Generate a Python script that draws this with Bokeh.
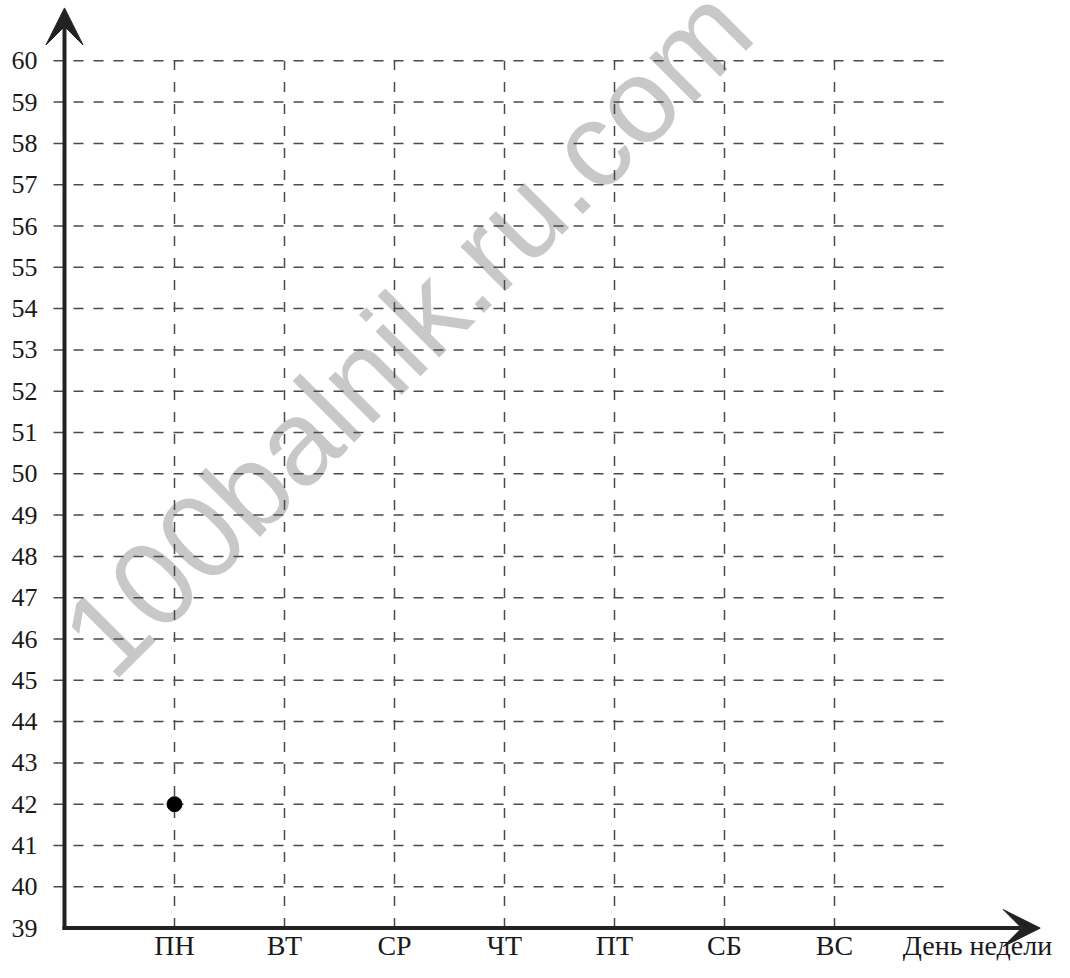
from bokeh.plotting import figure
from bokeh.models import Range1d, Arrow, VeeHead
from bokeh.core.properties import value
from bokeh.embed import file_html
from bokeh.resources import INLINE

# ---- data ----
days = ["ПН", "ВТ", "СР", "ЧТ", "ПТ", "СБ", "ВС"]
x_title = "День недели"
y_ticks = list(range(39, 61))
y_grid = list(range(40, 61))
point_days = ["ПН"]
point_values = [42]
watermark = "100balnik.ru.com"

# ---- geometry (pixels) ----
W, H = 1054, 962
PX_X = 110.0      # pixels per day
PX_Y = 41.3       # pixels per unit
X0_PX = 64.0      # canvas x of the vertical axis
Y0_PX = 927.6     # canvas y of the value 39
Y_MIN = y_ticks[0]

x_start = -X0_PX / PX_X
x_end = (W - X0_PX) / PX_X
y_start = Y_MIN - (H - Y0_PX) / PX_Y
y_end = Y_MIN + Y0_PX / PX_Y

p = figure(width=W, height=H,
           x_range=Range1d(x_start, x_end), y_range=Range1d(y_start, y_end),
           output_backend="svg", toolbar_location=None,
           x_axis_location=None, y_axis_location=None, min_border=0)
p.grid.visible = False
p.outline_line_color = None
p.background_fill_color = "white"
p.border_fill_color = "white"

xs = [i + 1 for i in range(len(days))]
n_days = len(days)

# watermark
p.text(x=[3.105], y=[53.45], text=[watermark], angle=45, angle_units="deg",
       text_font=value("Liberation Sans"), text_font_size="120px",
       text_color="#c8c8c8", text_align="center", text_baseline="alphabetic")

# dashed grid
grid_color = "#4a4a4a"
p.segment(x0=[-0.1] * len(y_grid), y0=y_grid, x1=[n_days + 1.0] * len(y_grid), y1=y_grid,
          line_color=grid_color, line_width=1.5, line_dash="10 10")
p.segment(x0=xs, y0=[Y_MIN] * n_days, x1=xs, y1=[y_grid[-1]] * n_days,
          line_color=grid_color, line_width=1.5, line_dash="10 12")

# axes with arrows
axis_color = "#222222"
p.add_layout(Arrow(x_start=0, y_start=Y_MIN - 2.0 / PX_Y, x_end=0, y_end=61.28,
                   line_color=axis_color, line_width=4,
                   end=VeeHead(size=37, fill_color=axis_color, line_color=axis_color)))
p.add_layout(Arrow(x_start=-2.0 / PX_X, y_start=Y_MIN, x_end=8.87, y_end=Y_MIN,
                   line_color=axis_color, line_width=4,
                   end=VeeHead(size=37, fill_color=axis_color, line_color=axis_color)))

# tick labels
p.text(x=[-0.245] * len(y_ticks), y=y_ticks, text=[str(v) for v in y_ticks],
       text_font=value("Liberation Serif"), text_font_size="26px", text_color="#1a1a1a",
       text_align="right", text_baseline="middle")
label_y = Y_MIN - (960 - Y0_PX) / PX_Y
p.text(x=xs, y=[label_y] * n_days, text=days,
       text_font=value("Liberation Serif"), text_font_size="28px", text_color="#1a1a1a",
       text_align="center", text_baseline="bottom")
p.text(x=[8.30], y=[label_y], text=[x_title],
       text_font=value("Liberation Serif"), text_font_size="28px", text_color="#1a1a1a",
       text_align="center", text_baseline="bottom")

# data point
p.scatter(x=[days.index(d) + 1 for d in point_days], y=point_values,
          size=15, fill_color="black", line_color="black")

open("out.html", "w").write(file_html(p, INLINE))
